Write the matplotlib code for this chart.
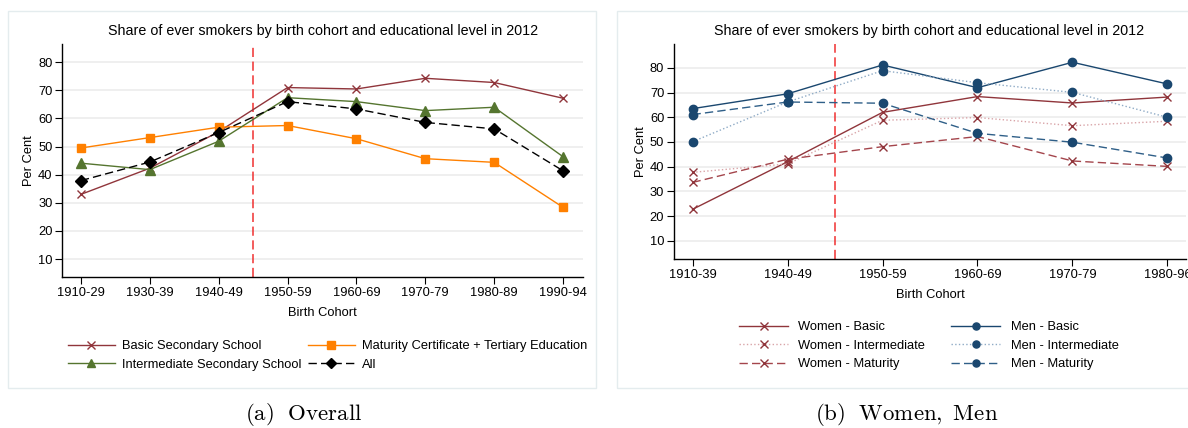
import matplotlib
matplotlib.use("Agg")
import matplotlib.pyplot as plt
from matplotlib.patches import Rectangle

plt.rcParams['font.family'] = ['Liberation Sans', 'DejaVu Sans']
plt.rcParams['mathtext.fontset'] = 'cm'

TITLE = "Share of ever smokers by birth cohort and educational level in 2012"

# panel (a): overall
cohorts_a = ["1910-29", "1930-39", "1940-49", "1950-59", "1960-69", "1970-79", "1980-89", "1990-94"]
basic_a = [33.0, 42.3, 55.3, 71.0, 70.5, 74.3, 72.8, 67.2]
interm_a = [44.1, 41.8, 51.9, 67.4, 66.0, 62.8, 64.0, 46.4]
matur_a = [49.5, 53.2, 56.9, 57.5, 52.8, 45.7, 44.4, 28.4]
all_a = [37.9, 44.5, 55.0, 66.0, 63.4, 58.6, 56.3, 41.4]

# panel (b): women, men
cohorts_b = ["1910-39", "1940-49", "1950-59", "1960-69", "1970-79", "1980-96"]
women_basic = [22.7, 42.0, 62.0, 68.4, 65.8, 68.2]
women_interm = [37.7, 41.1, 58.8, 59.9, 56.6, 58.4]
women_matur = [33.6, 43.0, 48.1, 52.2, 42.3, 40.1]
men_basic = [63.5, 69.5, 81.2, 72.0, 82.3, 73.5]
men_interm = [50.1, 66.2, 78.9, 74.0, 70.1, 60.0]
men_matur = [61.1, 66.2, 65.7, 53.5, 49.9, 43.5]

yticks = [10, 20, 30, 40, 50, 60, 70, 80]

MAROON = "#90353b"
NAVY = "#1a476f"
GREEN = "#55752f"
ORANGE = "#ff8000"

W, H = 1188, 428
fig = plt.figure(figsize=(W / 100, H / 100), dpi=100)


def fx(px):
    return px / W


def fy(py):
    return 1 - py / H


# panel frames
for x0, x1 in [(8, 596), (617, 1217)]:
    fig.add_artist(Rectangle((fx(x0), fy(388)), fx(x1 - x0), (388 - 11) / H,
                             transform=fig.transFigure, fill=False,
                             edgecolor="#e4ecee", linewidth=1.0))


def style_axes(ax, labels, ylim):
    ax.set_xticks(range(len(labels)))
    ax.set_xticklabels(labels)
    ax.set_yticks(yticks)
    ax.set_ylim(*ylim)
    ax.set_xlim(-0.27, len(labels) - 1 + 0.29)
    for s in ["top", "right"]:
        ax.spines[s].set_visible(False)
    for s in ["left", "bottom"]:
        ax.spines[s].set_linewidth(1.0)
    ax.tick_params(direction="out", length=5, width=0.8, labelsize=9.3, pad=2)
    ax.grid(axis="y", color="#ececec", linewidth=1.2)
    ax.set_axisbelow(True)
    ax.set_ylabel("Per Cent", fontsize=9.3, labelpad=2)


# ---- panel (a)
ax1 = fig.add_axes([fx(62.3), fy(277.3), fx(583 - 62.3), (277.3 - 44) / H])
style_axes(ax1, cohorts_a, (3.5, 86.5))
x = range(len(cohorts_a))
ax1.axvline(2.5, color="#f03030", linewidth=1.1, dashes=(6, 3))
h_basic, = ax1.plot(x, basic_a, color=MAROON, lw=1.0, marker="x", ms=6, mew=1.0,
                    label="Basic Secondary School")
h_mat, = ax1.plot(x, matur_a, color=ORANGE, lw=1.0, marker="s", ms=6,
                  label="Maturity Certificate + Tertiary Education")
h_int, = ax1.plot(x, interm_a, color=GREEN, lw=1.0, marker="^", ms=6.5,
                  label="Intermediate Secondary School")
h_all, = ax1.plot(x, all_a, color="black", lw=1.0, marker="D", ms=6, dashes=(6, 3),
                  label="All")
ax1.set_xlabel("Birth Cohort", fontsize=9.3, labelpad=6)
fig.text(fx(322.6), fy(31), TITLE, ha="center", va="center", fontsize=10.3)
ax1.legend(handles=[h_basic, h_int, h_mat, h_all], ncol=2, frameon=False,
           loc="upper left", bbox_to_anchor=(fx(68), fy(340)),
           bbox_transform=fig.transFigure, borderpad=0, borderaxespad=0,
           fontsize=9.3, handlelength=3.6, handletextpad=0.55,
           columnspacing=0.55, labelspacing=0.5, markerscale=0.85)
fig.text(fx(304), fy(414), r"$\mathrm{(a)\ \ Overall}$", ha="center", va="center",
         fontsize=16.5)

# ---- panel (b)
ax2 = fig.add_axes([fx(674), fy(259.3), fx(1186 - 674), (259.3 - 44) / H])
style_axes(ax2, cohorts_b, (2.46, 89.7))
ax2.set_xlim(-0.195, 5.195)
x = range(len(cohorts_b))
ax2.axvline(1.5, color="#f03030", linewidth=1.1, dashes=(6, 3))
hw1, = ax2.plot(x, women_basic, color=MAROON, lw=1.0, marker="x", ms=6, mew=1.0,
                label="Women - Basic")
hw2, = ax2.plot(x, women_interm, color="#d9a4a8", lw=1.0, ls=":", marker="x", ms=6,
                mew=1.0, mec=MAROON, label="Women - Intermediate")
hw3, = ax2.plot(x, women_matur, color="#a4454c", lw=1.0, dashes=(6, 3), marker="x",
                ms=6, mew=1.0, mec=MAROON, label="Women - Maturity")
hm1, = ax2.plot(x, men_basic, color=NAVY, lw=1.0, marker="o", ms=6,
                label="Men - Basic")
hm2, = ax2.plot(x, men_interm, color="#8fabc6", lw=1.0, ls=":", marker="o", ms=6,
                mfc=NAVY, mec=NAVY, label="Men - Intermediate")
hm3, = ax2.plot(x, men_matur, color="#2f5f88", lw=1.0, dashes=(6, 3), marker="o", ms=6,
                mfc=NAVY, mec=NAVY, label="Men - Maturity")
ax2.set_xlabel("Birth Cohort", fontsize=9.3, labelpad=6)
fig.text(fx(929.5), fy(31), TITLE, ha="center", va="center", fontsize=10.3)
ax2.legend(handles=[hw1, hw2, hw3, hm1, hm2, hm3], ncol=2, frameon=False,
           loc="upper left", bbox_to_anchor=(fx(739), fy(321)),
           bbox_transform=fig.transFigure, borderpad=0, borderaxespad=0,
           fontsize=9.3, handlelength=3.8, handletextpad=0.8,
           columnspacing=2.0, labelspacing=0.5, markerscale=0.85)
fig.text(fx(907), fy(414), r"$\mathrm{(b)\ \ Women,\ Men}$", ha="center", va="center",
         fontsize=16.5)

fig.savefig("out.png", dpi=100)
